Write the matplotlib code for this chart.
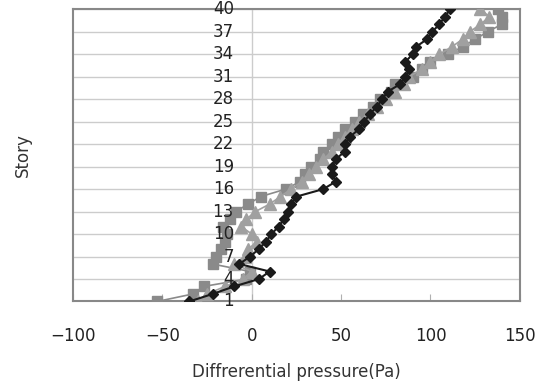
import numpy as np
import matplotlib.pyplot as plt

# Stockwerke
story = np.arange(1, 41)

# schwarze Rauten
p_diamond = [-35, -22, -10, 4, 10, -7, -1, 4, 8, 11,
             15, 18, 20, 22, 25, 40, 47, 45, 45, 47,
             52, 52, 55, 60, 63, 66, 70, 73, 76, 83,
             86, 88, 86, 90, 92, 98, 101, 105, 108, 111]

# graue Quadrate
p_square = [-53, -33, -27, -3, -1, -22, -20, -17, -15, -14,
            -16, -12, -9, -2, 5, 19, 27, 30, 33, 38,
            40, 45, 48, 52, 58, 62, 68, 72, 78, 80,
            90, 95, 100, 110, 118, 125, 132, 140, 140, 138]

# graue Dreiecke
p_tri = [-30, -25, -15, -5, 0, -10, -4, -2, 3, 0,
         -6, -3, 2, 10, 16, 22, 28, 32, 36, 40,
         45, 48, 52, 56, 60, 65, 70, 75, 80, 85,
         88, 95, 100, 105, 112, 118, 122, 128, 133, 128]

yticks = np.arange(1, 41, 3)
xticks = [-100, -50, 0, 50, 100, 150]

fig = plt.figure(figsize=(5.42, 3.87), dpi=100)
ax = fig.add_axes([0.135, 0.221, 0.824, 0.755])

ax.plot(p_square, story, '-s', color='#8a8a8a', ms=7.5, lw=1.2, zorder=3)
ax.plot(p_tri, story, '-^', color='#a0a0a0', ms=8.5, lw=1.2, zorder=3)
ax.plot(p_diamond, story, '-D', color='#1a1a1a', ms=5, lw=1.5, zorder=4)

ax.set_xlim(-100, 150)
ax.set_ylim(1, 40)
ax.set_xticks(xticks)
ax.set_xticklabels([str(v).replace('-', '\u2212') for v in xticks], fontsize=12, color='#222222')
ax.tick_params(axis='x', direction='in', length=5, color='#b0b0b0', pad=18.5)
ax.set_yticks(yticks)
ax.set_yticklabels([])
ax.tick_params(axis='y', length=0)
ax.grid(axis='y', color='#cccccc', lw=1)
ax.axvline(0, color='#cccccc', lw=1, zorder=1)

# y-Beschriftung an der Achse bei x=0
for v in yticks:
    ax.annotate(str(v), xy=(0, v), xytext=(-13, 0), textcoords='offset points',
                ha='right', va='center', fontsize=12, color='#222222', zorder=5)

for s in ax.spines.values():
    s.set_color('#888888')
    s.set_linewidth(1.5)

ax.set_xlabel('Diffrerential pressure(Pa)', fontsize=12, labelpad=13, color='#333333')
ax.set_ylabel('Story', fontsize=12, labelpad=26, color='#333333')

plt.savefig('out.png', dpi=100)
